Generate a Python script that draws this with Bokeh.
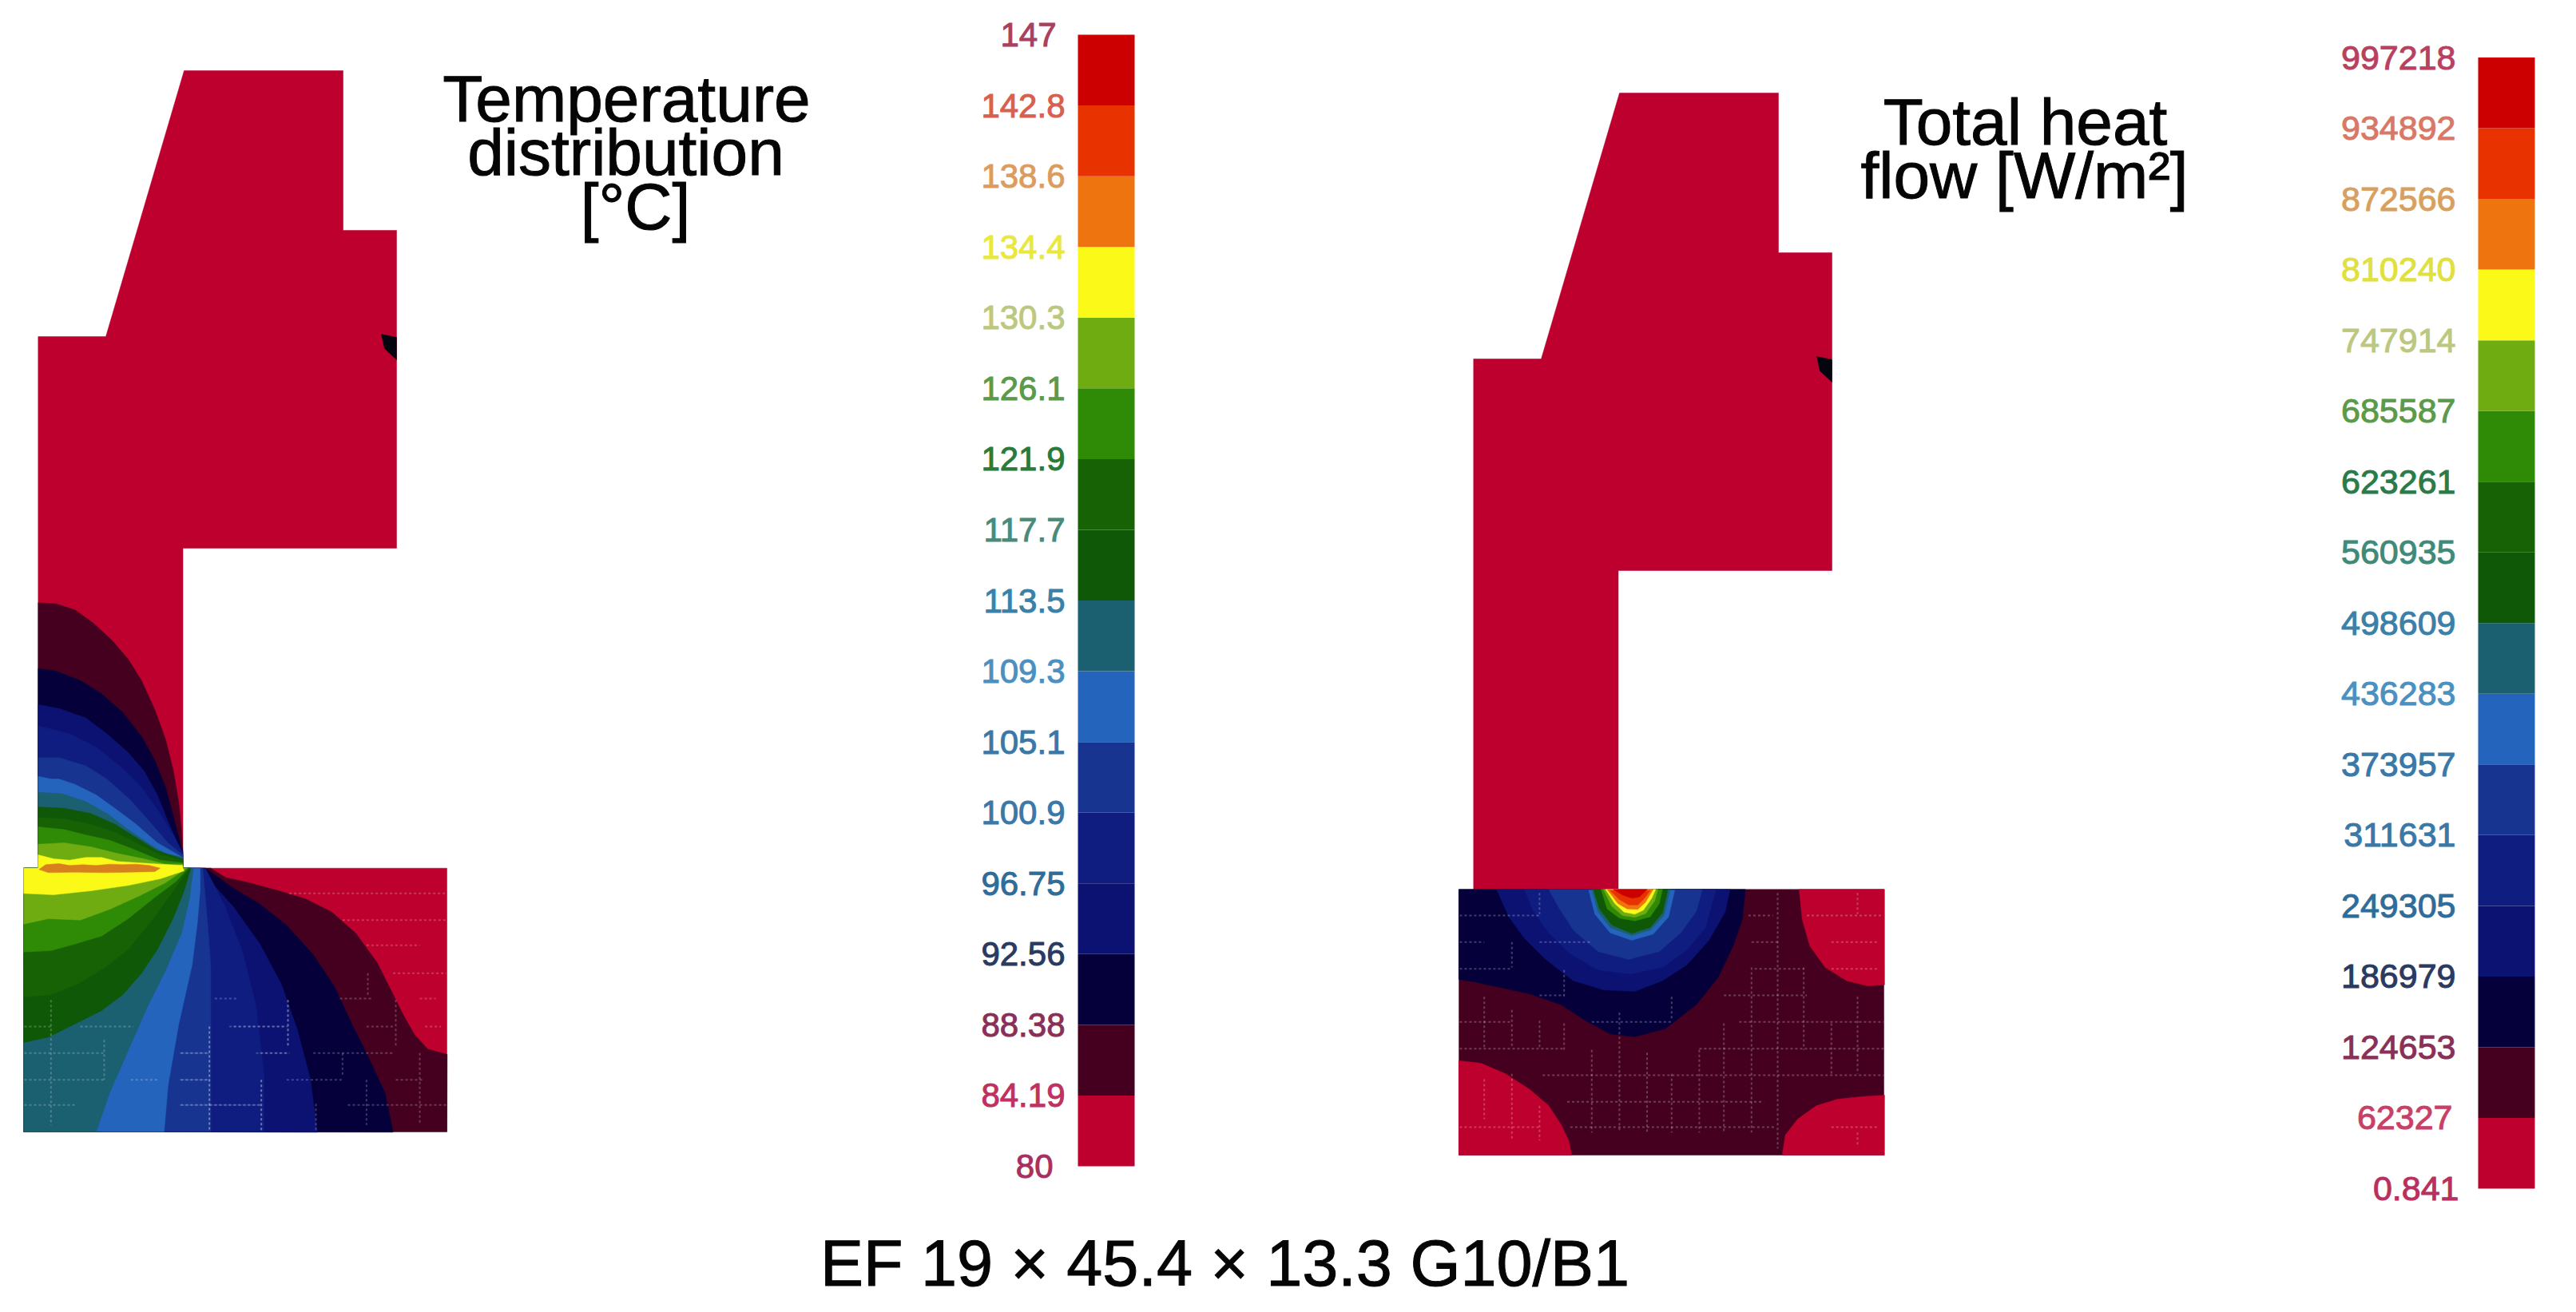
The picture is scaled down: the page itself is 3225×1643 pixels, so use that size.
from bokeh.plotting import figure
from bokeh.models import Range1d
from bokeh.core.properties import value
from bokeh.embed import file_html
from bokeh.resources import INLINE

FONT = "Liberation Sans"

# ---------- legend scales ----------
temp_labels = ["80", "84.19", "88.38", "92.56", "96.75", "100.9", "105.1", "109.3", "113.5",
               "117.7", "121.9", "126.1", "130.3", "134.4", "138.6", "142.8", "147"]
flux_labels = ["0.841", "62327", "124653", "186979", "249305", "311631", "373957", "436283", "498609",
               "560935", "623261", "685587", "747914", "810240", "872566", "934892", "997218"]
band_colors = ["#bd002e", "#45001f", "#05003a", "#0b1272", "#0f1c80", "#173490", "#2464bc", "#1b6070",
               "#0f5808", "#176205", "#2f8a06", "#6eac12", "#fbf918", "#ee7410", "#e83200", "#cc0000"]
temp_label_colors = ["#a83060", "#c03060", "#8a3058", "#2a3a60", "#2f6c9a", "#3a78a8", "#3a78a8", "#4a90c0",
                     "#3a80a8", "#4a8a78", "#2a7a3a", "#5a9a4a", "#bcc880", "#e8e840", "#dc9c60", "#d86050",
                     "#a84060"]
flux_label_colors = ["#b83060", "#c84068", "#8a3058", "#2a3a60", "#2f6c9a", "#3a78a8", "#3a78a8", "#4a90c0",
                     "#3a80a8", "#3f8a78", "#2a7a4a", "#5a9a4a", "#bcc880", "#e0e040", "#d8a060", "#d87868",
                     "#b84060"]

# ---------- outlines ----------
temp_outline_x = [230, 429, 429, 496, 496, 228.5, 228.5, 559, 559, 29.3, 29.3, 47.3, 47.3, 132]
temp_outline_y = [88, 88, 288, 288, 686, 686, 1086.7, 1086.7, 1416.7, 1416.7, 1086.7, 1086.7, 421, 421]
notch_x = [477, 496, 496, 481]
notch_y = [418, 422, 450, 436]

# ---------- temperature contours: stem part (upper-left leg), level k = first colour band k ----------
stem_1 = [(82,28),(150,32),(220,55),(290,105),(360,170),(420,240),(470,320),(520,430),(560,540),(590,660),(610,780),(622,900),(625,960)]
stem_2 = [(82,275),(150,285),(240,320),(320,370),(400,440),(470,530),(520,620),(560,720),(590,830),(615,930),(625,960)]
stem_3 = [(82,410),(160,425),(260,460),(340,520),(420,590),(480,660),(530,750),(570,850),(610,940),(625,965)]
stem_4 = [(82,490),(200,520),(300,570),(400,650),(470,720),(540,820),(590,900),(625,970)]
stem_5 = [(82,610),(160,610),(260,640),(340,690),(430,770),(500,850),(570,930),(625,975)]
stem_6 = [(82,680),(130,690),(160,690),(220,710),(300,750),(370,800),(450,860),(530,930),(625,985)]
stem_7 = [(82,740),(170,745),(260,775),(340,820),(420,880),(500,935),(560,970),(625,985)]
stem_8 = [(82,795),(180,800),(280,820),(370,860),(450,910),(530,960),(625,990)]
stem_9 = [(82,835),(180,840),(280,860),(370,890),(450,930),(540,975),(625,995)]
stem_10 = [(82,870),(180,880),(260,900),(350,920),(430,950),(540,995),(625,1005)]
stem_11 = [(82,935),(180,930),(280,945),(380,970),(480,990),(560,1010),(625,1010)]
stem_12 = [(82,975),(140,990),(200,995),(260,985),(320,985),(380,1000),(460,1005),(540,1010),(625,1015)]

# ---------- temperature contours: lower block ----------
block_1 = [(115,35),(170,70),(260,90),(370,120),(470,150),(570,200),(660,280),(740,390),(790,490),(840,590),(880,660),(930,715),(1003,735)]
block_2 = [(95,35),(200,110),(300,170),(400,250),(500,360),(580,480),(640,610),(700,730),(770,880),(800,1027)]
block_3 = [(75,35),(110,80),(200,180),(300,320),(380,470),(440,640),(490,830),(515,1027)]
block_4 = [(710,35),(780,170),(850,350),(900,550),(930,800),(930,1025)]
block_5 = [(700,35),(715,200),(730,400),(730,700),(730,1025)]
block_6 = [(690,35),(690,120),(680,240),(660,400),(610,620),(570,850),(555,1025)]
block_7 = [(665,35),(650,150),(620,280),(560,420),(490,560),(420,720),(350,880),(300,1025)]
block_8 = [(655,35),(630,120),(590,220),(530,340),(470,430),(400,510),(320,570),(220,620),(120,670),(28,690)]
block_9 = [(650,35),(590,120),(510,230),(420,340),(330,410),(230,470),(130,510),(28,520)]
block_10 = [(645,35),(600,85),(520,145),(420,225),(320,290),(220,320),(130,345),(28,350)]
block_11 = [(640,35),(560,90),(460,140),(350,190),(240,230),(120,225),(28,245)]
block_12 = [(630,45),(540,75),(420,100),(280,120),(140,135),(28,130)]
hot_strip = [(85,40),(110,22),(160,18),(200,25),(250,22),(300,25),(350,20),(400,22),(450,20),(500,25),(540,35),
             (520,48),(430,50),(330,52),(220,50),(120,52)]

# ---------- heat-flow contours ----------
flux_corner_tr = [(1175,187),(1185,300),(1210,400),(1260,480),(1330,530),(1400,550),(1453,545),(1453,187)]
flux_corner_bl = [(67,830),(140,840),(220,880),(300,940),(360,1000),(400,1070),(425,1130),(435,1185),(67,1185)]
flux_corner_br = [(1120,1185),(1130,1110),(1170,1050),(1230,1000),(1300,975),(1380,965),(1453,960),(1453,1185)]
flux_2 = [(67,187),(1000,187),(990,300),(960,400),(910,520),(840,620),(740,710),(640,740),(560,730),(480,680),(400,620),(300,580),(200,555),(120,535),(67,525)]
flux_3 = [(190,187),(230,290),(280,370),(350,450),(440,530),(540,565),(640,570),(730,530),(810,470),(880,380),(935,270),(950,187)]
flux_4 = [(280,187),(310,270),(360,350),(430,430),(520,490),(625,505),(730,480),(810,415),(870,330),(905,187)]
flux_5 = [(360,187),(395,260),(440,340),(520,420),(620,450),(720,420),(790,350),(840,270),(860,187)]
flux_6 = [(490,190),(510,280),(560,350),(630,378),(700,355),(750,290),(770,190)]
flux_7 = [(500,187),(520,270),(560,330),(630,360),(690,340),(735,285),(755,187)]
flux_8 = [(505,187),(525,260),(565,320),(630,352),(690,330),(730,275),(748,187)]
flux_10 = [(530,187),(550,260),(590,295),(640,305),(690,290),(720,240),(730,187)]
flux_11 = [(538,187),(565,250),(600,285),(640,292),(675,278),(705,230),(715,187)]
flux_12 = [(545,187),(575,240),(605,272),(640,280),(668,265),(695,220),(708,187)]
flux_13 = [(550,187),(585,240),(615,260),(650,262),(675,235),(700,187)]
flux_14 = [(560,192),(590,225),(620,245),(650,245),(672,220),(690,192)]
flux_15 = [(570,187),(600,208),(630,220),(655,215),(680,187)]

# ---------- faint mesh remnants (position, start, end) ----------
mesh_a_h = [(630,30,130),(630,240,440),(630,800,1020),(730,30,330),(730,620,720),(730,900,1020),
            (830,30,330),(830,430,530),(830,620,720),(925,30,220),(925,620,920)]
mesh_a_v = [(130,530,1000),(330,680,830),(725,630,1020),(920,830,1020),(1020,530,710)]
mesh_b_h = [(130,410,1000),(230,610,1000),(325,700,900),(430,800,1000),(525,130,220),(525,600,720),(525,900,960),
            (630,200,400),(630,700,800),(630,920,980),(730,0,110),(730,300,410),(730,500,800),(830,0,110),
            (830,400,610),(830,810,910),(925,0,300),(925,630,1000)]
mesh_b_v = [(705,430,520),(405,530,710),(810,530,710),(610,730,820),(110,630,1020),(305,830,1020),(510,920,1020),
            (900,730,1000),(700,830,1000)]
mesh_c_h = [(285,70,330),(285,1010,1090),(285,1200,1450),(385,70,150),(385,330,500),(385,1020,1110),(385,1280,1430),
            (485,70,240),(485,1030,1190),(485,1280,1430),(585,330,410),(585,930,1200),(685,70,240),(685,500,760),
            (685,980,1450),(785,70,410),(785,850,1450),(885,340,1450),(985,420,1060),(1080,70,330),(1080,430,1100),
            (1080,1280,1430)]
mesh_c_v = [(150,590,780),(150,900,1050),(240,385,480),(240,640,780),(240,880,1130),(330,200,280),(330,680,780),
            (330,1000,1130),(410,490,590),(410,690,790),(500,790,1100),(590,650,1100),(680,800,1100),(760,590,680),
            (760,880,1100),(850,790,1100),(930,690,1100),(1020,480,1100),(1105,200,1160),(1190,480,790),(1280,690,880),
            (1365,200,280),(1365,590,880),(1365,1100,1150)]

stems = [stem_1, stem_2, stem_3, stem_4, stem_5, stem_6, stem_7, stem_8, stem_9, stem_10, stem_11, stem_12]
blocks = [block_1, block_2, block_3, block_4, block_5, block_6, block_7, block_8, block_9, block_10, block_11, block_12]
flux_levels = [(2, flux_2), (3, flux_3), (4, flux_4), (5, flux_5), (6, flux_6), (7, flux_7), (8, flux_8), (10, flux_10),
               (11, flux_11), (12, flux_12), (13, flux_13), (14, flux_14), (15, flux_15)]

# ---------- readings were taken from crops of the picture ----------
def crop(x0, y0, sx, sy):
    return lambda pts: [(x0 + a / sx, y0 + b / sy) for a, b in pts]

from_stem = crop(20, 745, 3, 3)
from_left = crop(20, 1075, 3, 3)
from_right = crop(225, 1075, 3, 3)
from_flux = crop(1800, 1051, 2.6, 3)

SHIFT_X, SHIFT_Y = 1797, 28

p = figure(width=3209, height=1627, x_range=Range1d(0, 3209), y_range=Range1d(1627, 0),
           output_backend="svg", toolbar_location=None, min_border=0,
           outline_line_color=None, background_fill_color="white", border_fill_color="white")
p.axis.visible = False
p.grid.visible = False


def fill(pts, color):
    p.patch([a for a, _ in pts], [b for _, b in pts], fill_color=color, line_color=color, line_width=0.5)


# ---------- left field ----------
fill(list(zip(temp_outline_x, temp_outline_y)), band_colors[0])
CORNER = (228.5, 1086.7)
LEFT, RIGHT, TOP, BOTTOM = 29.3, 559, 1086.7, 1416.7
for k, (st, bl) in enumerate(zip(stems, blocks), start=1):
    block_src = from_right if k <= 3 else from_left
    pts = from_stem(st) + [CORNER] + block_src(bl)
    if k == 1:
        pts += [(RIGHT, BOTTOM)]
    if k <= 7:
        pts += [(LEFT, BOTTOM)]
    pts += [(LEFT, TOP), (47.3, TOP)]
    fill(pts, band_colors[k])
fill(from_left(hot_strip), "#d8801e")
fill(list(zip(notch_x, notch_y)), "#050510")

# ---------- right field ----------
fill([(a + SHIFT_X, b + SHIFT_Y) for a, b in zip(temp_outline_x[:7], temp_outline_y[:7])]
     + [(2025.5, 1114), (1844.3, 1114)]
     + [(a + SHIFT_X, b + SHIFT_Y) for a, b in zip(temp_outline_x[12:], temp_outline_y[12:])], band_colors[0])
fill([(1826, 1113.3), (2358, 1113.3), (2358, 1446), (1826, 1446)], band_colors[1])
for corner in (flux_corner_tr, flux_corner_bl, flux_corner_br):
    fill(from_flux(corner), band_colors[0])
for k, pts in flux_levels:
    fill(from_flux(pts), band_colors[k])
fill([(a + SHIFT_X, b + SHIFT_Y) for a, b in zip(notch_x, notch_y)], "#050510")


# ---------- mesh remnants ----------
def mesh(horizontal, vertical, x0, y0, sx, sy, alpha):
    xs, ys = [], []
    for pos, a, b in horizontal:
        xs.append([x0 + a / sx, x0 + b / sx])
        ys.append([y0 + pos / sy] * 2)
    for pos, a, b in vertical:
        xs.append([x0 + pos / sx] * 2)
        ys.append([y0 + a / sy, y0 + b / sy])
    p.multi_line(xs, ys, line_color="white", line_alpha=alpha, line_width=2, line_dash="3 3")


mesh(mesh_a_h, mesh_a_v, 20, 1075, 3, 3, 0.22)
mesh(mesh_b_h, mesh_b_v, 225, 1075, 3, 3, 0.22)
mesh(mesh_c_h, mesh_c_v, 1800, 1051, 2.6, 3, 0.24)


# ---------- colour bars ----------
def color_bar(left, right, top, bottom):
    n = len(band_colors)
    h = (bottom - top) / n
    p.quad(left=[left] * n, right=[right] * n,
           bottom=[bottom - i * h for i in range(n)], top=[bottom - (i + 1) * h for i in range(n)],
           fill_color=band_colors, line_color=None)
    return [bottom - i * h for i in range(n + 1)]


def labels(texts, colors, x, ys, size):
    p.text(x=x, y=ys, text=texts, text_color=colors, text_font=value(FONT), text_font_size=size,
           text_align="right", text_baseline="middle", text_outline_color=colors)


temp_y = color_bar(1349, 1420, 43, 1460)
flux_y = color_bar(3102, 3173, 71.5, 1488)
temp_x = [1318, 1333] + [1333] * 14 + [1322]
flux_x = [3078, 3070] + [3074] * 15
labels(temp_labels, temp_label_colors, temp_x, temp_y, "42px")
labels(flux_labels, flux_label_colors, flux_x, flux_y, "43px")

# ---------- titles ----------
titles = ["Temperature", "distribution", "[°C]", "Total heat", "flow [W/m²]"]
title_x = [784, 783, 795, 2535, 2534]
title_y = [123, 190, 258, 152, 219]
p.text(x=title_x, y=title_y, text=titles, text_color="#050505", text_font=value(FONT), text_font_size="82px",
       text_align="center", text_baseline="middle", text_outline_color="#050505")
p.text(x=[1533], y=[1581], text=["EF 19 × 45.4 × 13.3 G10/B1"], text_color="#050505", text_font=value(FONT),
       text_font_size="81px", text_align="center", text_baseline="middle", text_outline_color="#050505")

open("out.html", "w").write(file_html(p, INLINE))
